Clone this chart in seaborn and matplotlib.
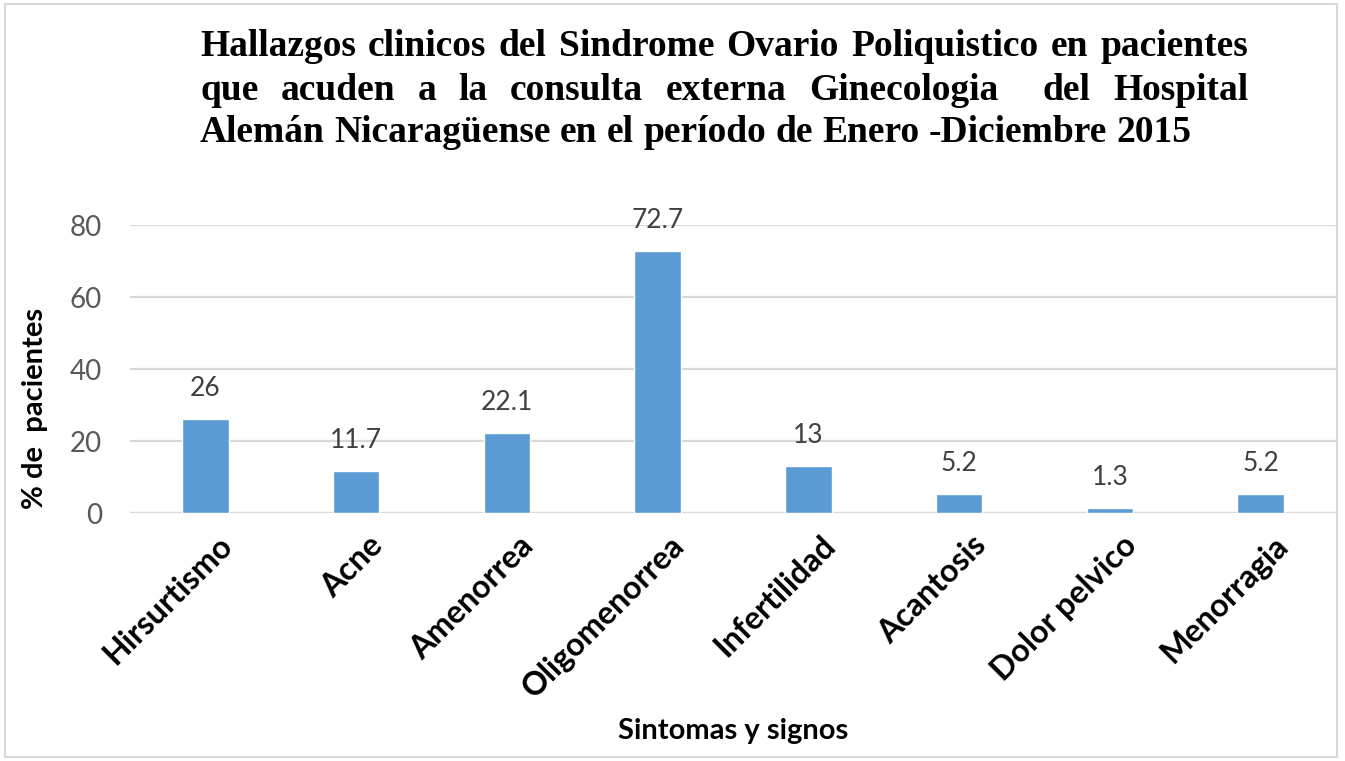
import matplotlib
matplotlib.use("Agg")
import matplotlib.pyplot as plt
import matplotlib.transforms as mtransforms
import pandas as pd
import seaborn as sns

categories = ["Hirsurtismo", "Acne", "Amenorrea", "Oligomenorrea", "Infertilidad",
              "Acantosis", "Dolor pelvico", "Menorragia"]
values = [26, 11.7, 22.1, 72.7, 13, 5.2, 1.3, 5.2]
labels = ["26", "11.7", "22.1", "72.7", "13", "5.2", "1.3", "5.2"]
yticks = [0, 20, 40, 60, 80]

title_lines = [
    "Hallazgos clinicos del Sindrome Ovario Poliquistico en pacientes",
    "que acuden a la consulta externa Ginecologia  del Hospital",
    "Alemán Nicaragüense en el período de Enero -Diciembre 2015",
]

df = pd.DataFrame({"sintoma": categories, "pct": values})

sns.set_theme(style="white")
plt.rcParams["font.family"] = ["Lato", "DejaVu Sans"]

W, H = 1345, 761
fig = plt.figure(figsize=(W / 100, H / 100), dpi=100)
ax = fig.add_axes([130 / W, 1 - 513 / H, (1336 - 130) / W, (513 - 225) / H])

sns.barplot(data=df, x="sintoma", y="pct", color="#5B9BD5", width=0.31,
            saturation=1, ax=ax, zorder=3)

ax.set_xlim(-0.5, len(categories) - 0.5)
ax.set_ylim(0, 80)
ax.set_yticks(yticks)
ax.set_yticklabels([str(t) for t in yticks])
ax.grid(axis="y", color="#D9D9D9", linewidth=1.6, zorder=0)
ax.grid(axis="x", visible=False)
for s in ax.spines.values():
    s.set_visible(False)
ax.axhline(0, color="#D9D9D9", linewidth=1.6, zorder=2)

ax.tick_params(axis="y", length=0, pad=20, labelsize=20, labelcolor="#595959")
ax.tick_params(axis="x", length=0, pad=20)
ax.set_xticks(range(len(categories)))
ax.set_xticklabels(categories, rotation=45, ha="right", va="center",
                   rotation_mode="anchor", fontsize=23, fontweight="bold",
                   color="black")
shift = mtransforms.ScaledTranslation(0.22, 0, fig.dpi_scale_trans)
for lab in ax.get_xticklabels():
    lab.set_transform(lab.get_transform() + shift)

ax.set_xlabel("")
ax.set_ylabel("")

for i, (v, t) in enumerate(zip(values, labels)):
    ax.annotate(t, (i, v), xytext=(0, 22), textcoords="offset points",
                ha="center", va="center", fontsize=19, color="#404040")

fig.text(35 / W, 1 - 408 / H, "% de  pacientes", rotation=90, ha="center",
         va="center", fontsize=21, fontweight="bold", color="black")
fig.text(733 / W, 1 - 731 / H, "Sintomas y signos", ha="center", va="center",
         fontsize=21, fontweight="bold", color="black")

# justified title, laid out word by word
renderer = fig.canvas.get_renderer()
tsize = 27
serif = ["Liberation Serif"]
left_px, right_px = 200, 1248
line_y = [47, 90, 133]


def text_width(s):
    t = fig.text(0, 0, s, fontsize=tsize, fontweight="bold", family=serif)
    w = t.get_window_extent(renderer).width
    t.remove()
    return w


space_w = text_width("a a") - 2 * text_width("a")
for li, line in enumerate(title_lines):
    words = line.split(" ")
    texts = [fig.text(0, 0, w, fontsize=tsize, fontweight="bold",
                      family=serif, color="black", ha="left", va="center")
             for w in words]
    widths = [t.get_window_extent(renderer).width if w else 0
              for t, w in zip(texts, words)]
    if li < len(title_lines) - 1:
        gap = (right_px - left_px - sum(widths)) / (len(words) - 1)
    else:
        gap = space_w
    x = left_px
    for t, w in zip(texts, widths):
        t.set_position((x / W, 1 - line_y[li] / H))
        x += w + gap

border = plt.Rectangle((5 / W, 4 / H), (1337 - 5) / W, (757 - 4) / H,
                       transform=fig.transFigure, fill=False,
                       edgecolor="#D9D9D9", linewidth=1.5)
fig.patches.append(border)

fig.savefig("out.png", dpi=100)
